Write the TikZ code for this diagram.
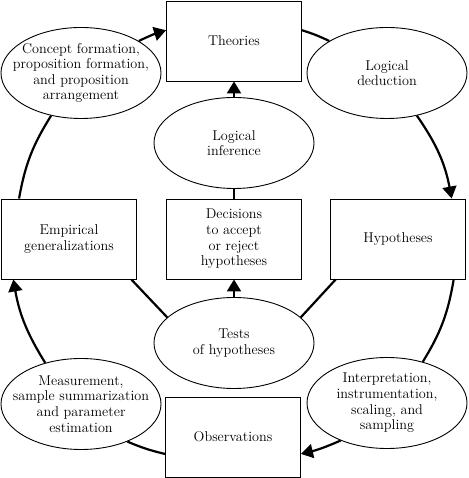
\documentclass[tikz,border=0pt]{standalone}
\usepackage{fontspec}
\usetikzlibrary{shapes.geometric,arrows.meta}
\begin{document}
\begin{tikzpicture}[x=1pt,y=1pt,
    caja/.style={draw,line width=0.9pt,minimum width=135pt,minimum height=80pt,inner sep=0pt,align=center,font=\fontsize{14.2}{15.6}\selectfont},
    ovalo/.style={draw,ellipse,line width=0.9pt,minimum width=160pt,minimum height=91pt,inner xsep=-15pt,inner ysep=0pt,align=center,font=\fontsize{14.2}{15.6}\selectfont},
    flecha/.style={line width=2.2pt,-{Triangle[length=12pt,width=14pt]}},
    linea/.style={line width=2.2pt}]
\useasboundingbox (0,0) rectangle (468,478);

    %Cajas
    \node[caja] (theories) at (234,437) {Theories};
    \node[caja] (empirical) at (69,239) {Empirical\\generalizations};
    \node[caja] (decisions) at (234,239) {Decisions\\to accept\\or reject\\hypotheses};
    \node[caja] (hypotheses) at (398,239) {Hypotheses};
    \node[caja] (observ) at (233,41) {Observations};

    %Elipses
    \node[ovalo] (concept) at (81,405) {Concept formation,\\proposition formation,\\and proposition\\arrangement};
    \node[ovalo] (deduction) at (387,405) {Logical\\deduction};
    \node[ovalo] (inference) at (234,335) {Logical\\inference};
    \node[ovalo] (tests) at (234,135) {Tests\\of hypotheses};
    \node[ovalo] (measure) at (81,74) {Measurement,\\sample summarization\\and parameter\\estimation};
    \node[ovalo] (interp) at (387,75) {Interpretation,\\instrumentation,\\scaling, and\\sampling};

    %Circulo exterior
    \foreach \a/\b/\c in {concept.29/theories.171/4,deduction.-55/hypotheses.37/12,interp.219/observ.-14/5,measure.131/empirical.216/11}{
        \draw[flecha] (\a) to[bend left=\c] (\b);
    }
    \foreach \a/\b/\c in {theories.9/deduction.151/4,hypotheses.-36/interp.49/11,observ.194/measure.-39/5,empirical.141/concept.235/11}{
        \draw[linea] (\a) to[bend left=\c] (\b);
    }

    %Centro
    \draw[linea] (hypotheses.213) -- (tests.21);
    \draw[linea] (empirical.-33) -- (tests.159);
    \draw[flecha] (tests) -- (decisions);
    \draw[linea] (decisions) -- (inference);
    \draw[flecha] (inference) -- (theories);
\end{tikzpicture}
\end{document}
